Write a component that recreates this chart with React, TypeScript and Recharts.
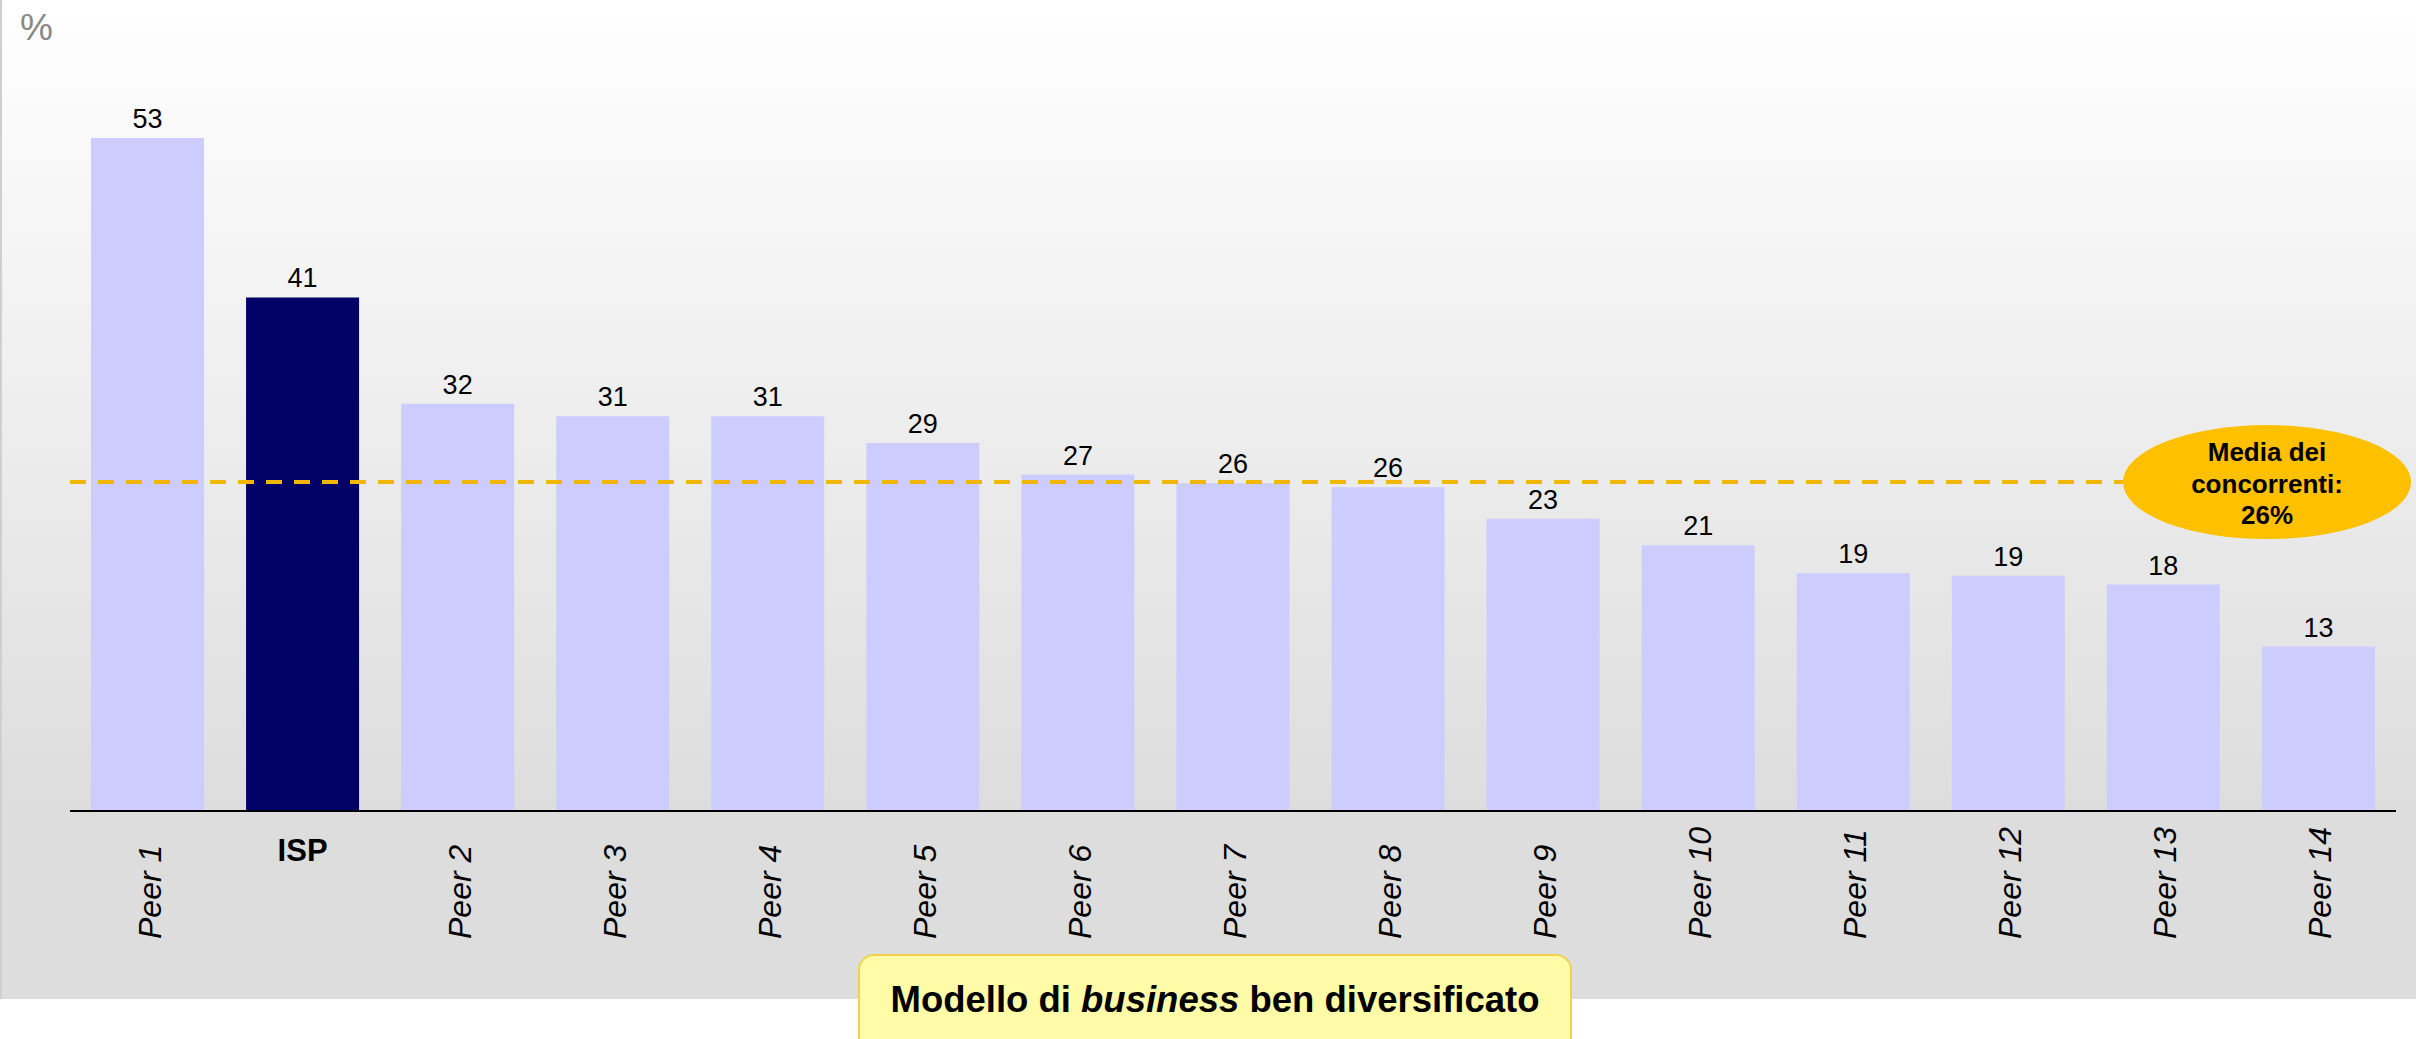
import { BarChart, Bar, XAxis, YAxis, Cell, LabelList, ReferenceLine } from "recharts";

const categories = ["Peer 1", "ISP", "Peer 2", "Peer 3", "Peer 4", "Peer 5", "Peer 6", "Peer 7", "Peer 8", "Peer 9", "Peer 10", "Peer 11", "Peer 12", "Peer 13", "Peer 14"];
// bar heights; labels show them rounded
const values = [53.2, 40.6, 32.2, 31.2, 31.2, 29.1, 26.6, 25.9, 25.6, 23.1, 21.0, 18.8, 18.6, 17.9, 13.0];
const highlight = "ISP";
const peerAverage = 26;
const averageLines = ["Media dei", "concorrenti:", "26%"];

const data = categories.map((name, i) => ({ name, value: values[i] }));

const FONT = "'Liberation Sans', Arial, sans-serif";

function CategoryTick(props: any) {
  const { x, y, payload } = props;
  if (payload.value === highlight) {
    return (
      <text x={x} y={y + 42} textAnchor="middle" fontFamily={FONT} fontSize={31} fontWeight="bold" fill="#000">
        {payload.value}
      </text>
    );
  }
  const bx = x + 13;
  const by = y + 120;
  return (
    <text
      x={bx}
      y={by}
      transform={`rotate(-90 ${bx} ${by})`}
      textAnchor="start"
      fontFamily={FONT}
      fontSize={32}
      fontStyle="italic"
      fill="#000"
    >
      {payload.value}
    </text>
  );
}

function AverageBadge(props: any) {
  const { viewBox } = props;
  const cx = viewBox.x + viewBox.width - 129;
  const cy = viewBox.y;
  return (
    <g>
      <ellipse cx={cx} cy={cy} rx={144} ry={57} fill="#FFC000" />
      {averageLines.map((line, i) => (
        <text
          key={line}
          x={cx}
          y={cy - 21 + i * 31.5}
          textAnchor="middle"
          fontFamily={FONT}
          fontSize={26}
          fontWeight="bold"
          fill="#000"
        >
          {line}
        </text>
      ))}
    </g>
  );
}

export default function App() {
  return (
    <div
      style={{
        position: "absolute",
        left: 0,
        top: 0,
        width: 2416,
        height: 1039,
        overflow: "hidden",
        background: "#fff",
        fontFamily: FONT,
      }}
    >
      <div
        style={{
          position: "absolute",
          left: 0,
          top: 0,
          width: 2416,
          height: 999,
          background: "linear-gradient(to bottom, #ffffff 0px, #dddddd 811px, #dddddd 999px)",
          borderLeft: "2px solid #cfcfcf",
          boxSizing: "border-box",
        }}
      />
      <div style={{ position: "absolute", left: 20, top: 9, fontSize: 37, lineHeight: "37px", color: "#888" }}>%</div>
      <div style={{ position: "absolute", left: 0, top: 0 }}>
        <BarChart width={2416} height={1039} data={data} margin={{ top: 52, right: 20, bottom: 0, left: 70 }}>
          <XAxis
            dataKey="name"
            height={228}
            interval={0}
            tickLine={false}
            axisLine={{ stroke: "#000", strokeWidth: 2 }}
            tick={<CategoryTick />}
          />
          <YAxis hide domain={[0, 60]} />
          <Bar dataKey="value" barSize={113} isAnimationActive={false}>
            {data.map((d) => (
              <Cell key={d.name} fill={d.name === highlight ? "#000066" : "#CCCCFF"} />
            ))}
            <LabelList
              dataKey="value"
              position="top"
              offset={10}
              fill="#000"
              fontSize={27}
              fontFamily={FONT}
              formatter={(v: any) => Math.round(Number(v))}
            />
          </Bar>
          <ReferenceLine
            y={peerAverage}
            stroke="#F2B705"
            strokeWidth={4}
            strokeDasharray="16 12"
            label={<AverageBadge />}
          />
        </BarChart>
      </div>
      <div
        style={{
          position: "absolute",
          left: 858,
          top: 954,
          width: 714,
          height: 140,
          boxSizing: "border-box",
          background: "#FFFBA6",
          border: "2px solid #F3D24A",
          borderRadius: 16,
          textAlign: "center",
          paddingTop: 26,
          lineHeight: "36.5px",
          fontSize: 36.5,
          fontWeight: "bold",
          color: "#000",
          whiteSpace: "nowrap",
        }}
      >
        Modello di <i>business</i> ben diversificato
      </div>
    </div>
  );
}
